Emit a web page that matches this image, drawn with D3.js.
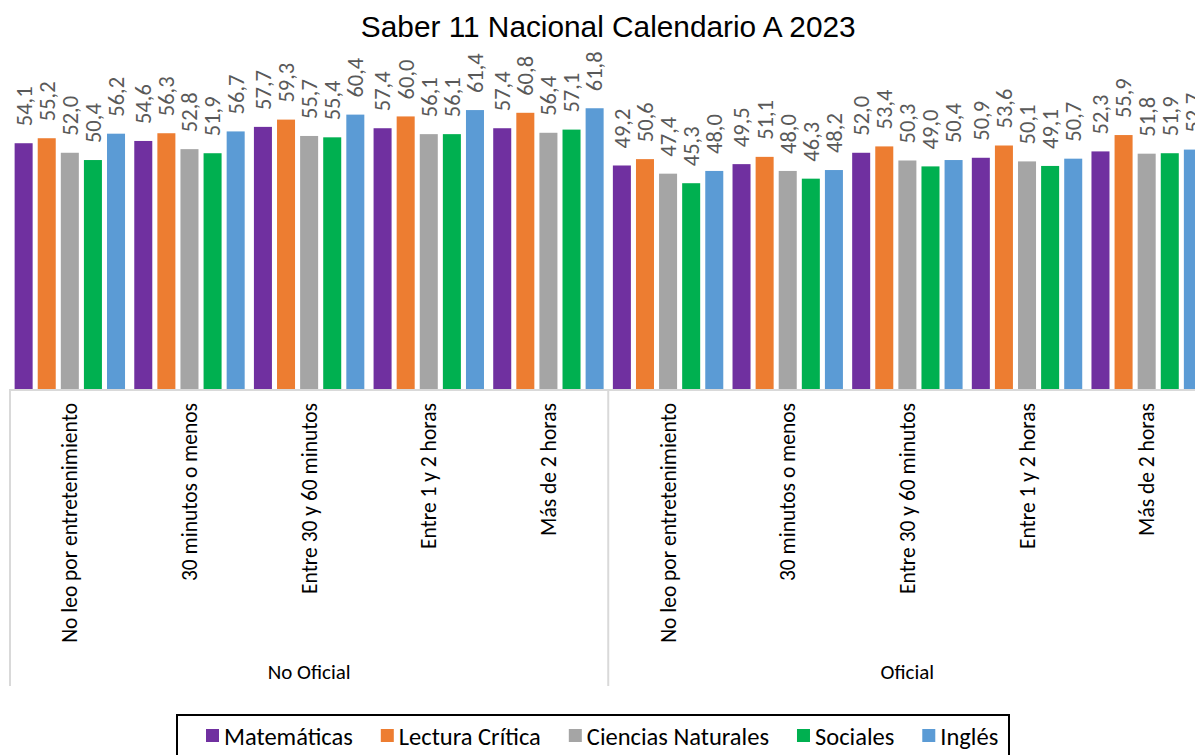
<!DOCTYPE html>
<html><head><meta charset="utf-8">
<script src="https://cdn.jsdelivr.net/npm/d3@7"></script>
<style>
html,body{margin:0;padding:0;background:#fff;overflow:hidden;}
svg{display:block;}
</style></head>
<body>
<svg id="chart" width="1195" height="755"></svg>
<script>
const title = "Saber 11 Nacional Calendario A 2023";
const sectors = ["No Oficial", "Oficial"];
const categories = ["No leo por entretenimiento", "30 minutos o menos", "Entre 30 y 60 minutos", "Entre 1 y 2 horas", "Más de 2 horas"];
const series = ["Matemáticas", "Lectura Crítica", "Ciencias Naturales", "Sociales", "Inglés"];
const colors = ["#7030A0", "#ED7D31", "#A5A5A5", "#00B050", "#5B9BD5"];
// values[sector][category][series]
const noOficial = [
  [54.1, 55.2, 52.0, 50.4, 56.2],
  [54.6, 56.3, 52.8, 51.9, 56.7],
  [57.7, 59.3, 55.7, 55.4, 60.4],
  [57.4, 60.0, 56.1, 56.1, 61.4],
  [57.4, 60.8, 56.4, 57.1, 61.8]
];
const oficial = [
  [49.2, 50.6, 47.4, 45.3, 48.0],
  [49.5, 51.1, 48.0, 46.3, 48.2],
  [52.0, 53.4, 50.3, 49.0, 50.4],
  [50.9, 53.6, 50.1, 49.1, 50.7],
  [52.3, 55.9, 51.8, 51.9, 52.7]
];
const yMax = 70;

const svg = d3.select("#chart");
const left = 10, right = 1206.5, baseY = 389, topY = 71;
const labelFont = "Carlito, Lato, sans-serif";

const keys = [];
sectors.forEach(s => categories.forEach(c => keys.push(s + "|" + c)));
const tables = [noOficial, oficial];

const x0 = d3.scaleBand().domain(keys).range([left, right]).padding(0);
const x1 = d3.scaleBand().domain(series).range([0, x0.bandwidth()]).paddingInner(0.22).paddingOuter(0.2);
const y = d3.scaleLinear().domain([0, yMax]).range([baseY, topY]);
const color = d3.scaleOrdinal().domain(series).range(colors);

const rows = [];
sectors.forEach((s, si) => categories.forEach((c, ci) => {
  series.forEach((se, k) => rows.push({key: s + "|" + c, series: se, value: tables[si][ci][k]}));
}));

// title
svg.append("text").attr("x", (left + right) / 2).attr("y", 37)
  .attr("text-anchor", "middle").attr("font-family", "Liberation Sans, Arial, sans-serif")
  .attr("font-size", 29.8).attr("fill", "#000").text(title);

// bars
svg.append("g").selectAll("rect").data(rows).join("rect")
  .attr("x", d => x0(d.key) + x1(d.series))
  .attr("y", d => y(d.value))
  .attr("width", x1.bandwidth())
  .attr("height", d => y(0) - y(d.value))
  .attr("fill", d => color(d.series));

// data labels
svg.append("g").selectAll("text").data(rows).join("text")
  .attr("transform", d => `translate(${x0(d.key) + x1(d.series) + x1.bandwidth() / 2},${y(d.value) - 17}) rotate(-90)`)
  .attr("dy", "0.35em")
  .attr("text-anchor", "start")
  .attr("font-family", labelFont).attr("font-size", 22.5).attr("fill", "#595959")
  .text(d => d3.format(".1f")(d.value).replace(".", ","));

// axis lines
const axis = svg.append("g").attr("stroke", "#D9D9D9").attr("stroke-width", 2);
axis.append("line").attr("x1", left).attr("x2", right).attr("y1", baseY + 1).attr("y2", baseY + 1);
const sepX = [left, x0(sectors[1] + "|" + categories[0]), right];
sepX.forEach(sx => axis.append("line").attr("x1", sx).attr("x2", sx).attr("y1", baseY).attr("y2", 686));

// category labels
svg.append("g").selectAll("text").data(keys).join("text")
  .attr("transform", d => `translate(${x0(d) + x0.bandwidth() / 2},403) rotate(-90)`)
  .attr("dy", "0.35em").attr("text-anchor", "end")
  .attr("font-family", labelFont).attr("font-size", 21.5).attr("fill", "#000")
  .text(d => d.split("|")[1]);

// sector labels
svg.append("g").selectAll("text").data(sectors).join("text")
  .attr("x", (d, i) => (sepX[i] + sepX[i + 1]) / 2).attr("y", 672)
  .attr("dy", "0.35em").attr("text-anchor", "middle")
  .attr("font-family", labelFont).attr("font-size", 21).attr("fill", "#000")
  .text(d => d);

// legend
svg.append("rect").attr("x", 177).attr("y", 715).attr("width", 832).attr("height", 50)
  .attr("fill", "none").attr("stroke", "#000").attr("stroke-width", 2);
const lg = svg.append("g");
let lx = 206;
series.forEach((s, i) => {
  lg.append("rect").attr("x", lx).attr("y", 729).attr("width", 13).attr("height", 13).attr("fill", colors[i]);
  const t = lg.append("text").attr("x", lx + 18).attr("y", 736).attr("dy", "0.35em")
    .attr("font-family", labelFont).attr("font-size", 24.5).attr("fill", "#000").text(s);
  lx += 18 + t.node().getComputedTextLength() + 28;
});
</script>
</body></html>
